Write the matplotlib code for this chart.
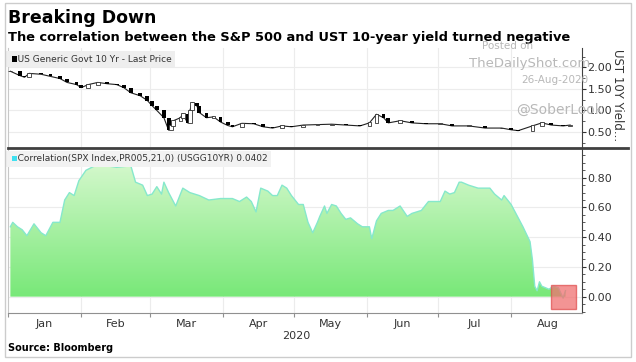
import numpy as np
import pandas as pd
import matplotlib
matplotlib.use("Agg")
import matplotlib.pyplot as plt
import matplotlib.dates as mdates
from matplotlib.colors import LinearSegmentedColormap
from matplotlib.patches import Polygon, Rectangle
from matplotlib.lines import Line2D

# US 10Y yield (approx. closes)
yield_dates = ["2020-01-02", "2020-01-06", "2020-01-08", "2020-01-10", "2020-01-15",
               "2020-01-19", "2020-01-23", "2020-01-26", "2020-01-30", "2020-02-01",
               "2020-02-04", "2020-02-08", "2020-02-12", "2020-02-16", "2020-02-19",
               "2020-02-22", "2020-02-26", "2020-02-29", "2020-03-02", "2020-03-04",
               "2020-03-07", "2020-03-09", "2020-03-10", "2020-03-11", "2020-03-14",
               "2020-03-15", "2020-03-17", "2020-03-18", "2020-03-19", "2020-03-21",
               "2020-03-22", "2020-03-25", "2020-03-28", "2020-03-31", "2020-04-03",
               "2020-04-05", "2020-04-09", "2020-04-14", "2020-04-18", "2020-04-22",
               "2020-04-26", "2020-04-30", "2020-05-05", "2020-05-11", "2020-05-17",
               "2020-05-23", "2020-05-29", "2020-06-02", "2020-06-05", "2020-06-08",
               "2020-06-10", "2020-06-15", "2020-06-20", "2020-06-26", "2020-07-02",
               "2020-07-07", "2020-07-14", "2020-07-21", "2020-07-28", "2020-08-01",
               "2020-08-04", "2020-08-10", "2020-08-14", "2020-08-18", "2020-08-23",
               "2020-08-26"]
yield_vals = [1.91, 1.81, 1.77, 1.86, 1.84,
              1.79, 1.74, 1.65, 1.60, 1.53,
              1.60, 1.65, 1.62, 1.60, 1.53,
              1.41, 1.34, 1.23, 1.11, 1.00,
              0.83, 0.54, 0.64, 0.76, 0.83,
              0.92, 0.71, 1.00, 1.18, 1.10,
              0.95, 0.83, 0.85, 0.73, 0.65,
              0.62, 0.70, 0.69, 0.62, 0.59,
              0.64, 0.62, 0.66, 0.67, 0.68,
              0.66, 0.64, 0.71, 0.91, 0.83,
              0.71, 0.76, 0.71, 0.69, 0.69,
              0.64, 0.64, 0.59, 0.59, 0.55,
              0.53, 0.64, 0.71, 0.66, 0.64,
              0.66]

# 21-day correlation SPX vs USGG10YR
corr_dates = ["2020-01-02", "2020-01-03", "2020-01-05", "2020-01-07", "2020-01-09",
              "2020-01-12", "2020-01-15", "2020-01-17", "2020-01-20", "2020-01-23",
              "2020-01-25", "2020-01-27", "2020-01-29", "2020-01-31", "2020-02-03",
              "2020-02-08", "2020-02-12", "2020-02-16", "2020-02-22", "2020-02-24",
              "2020-02-27", "2020-02-29", "2020-03-02", "2020-03-04", "2020-03-06",
              "2020-03-07", "2020-03-09", "2020-03-12", "2020-03-15", "2020-03-18",
              "2020-03-22", "2020-03-26", "2020-03-31", "2020-04-05", "2020-04-08",
              "2020-04-11", "2020-04-13", "2020-04-15", "2020-04-17", "2020-04-20",
              "2020-04-22", "2020-04-24", "2020-04-26", "2020-04-28", "2020-04-30",
              "2020-05-03", "2020-05-05", "2020-05-07", "2020-05-09", "2020-05-11",
              "2020-05-12", "2020-05-14", "2020-05-15", "2020-05-17", "2020-05-19",
              "2020-05-21", "2020-05-23", "2020-05-25", "2020-05-28", "2020-05-30",
              "2020-06-01", "2020-06-02", "2020-06-03", "2020-06-05", "2020-06-07",
              "2020-06-10", "2020-06-12", "2020-06-15", "2020-06-18", "2020-06-20",
              "2020-06-24", "2020-06-27", "2020-07-02", "2020-07-04", "2020-07-06",
              "2020-07-08", "2020-07-10", "2020-07-11", "2020-07-14", "2020-07-18",
              "2020-07-23", "2020-07-25", "2020-07-28", "2020-07-29", "2020-08-01",
              "2020-08-06", "2020-08-09", "2020-08-10", "2020-08-11", "2020-08-12",
              "2020-08-13", "2020-08-14", "2020-08-17", "2020-08-19", "2020-08-21",
              "2020-08-23", "2020-08-24"]
corr_vals = [0.47, 0.50, 0.47, 0.45, 0.41,
             0.49, 0.43, 0.41, 0.50, 0.50,
             0.65, 0.70, 0.68, 0.78, 0.85,
             0.89, 0.88, 0.87, 0.88, 0.77,
             0.75, 0.68, 0.69, 0.74, 0.69,
             0.77, 0.70, 0.61, 0.73, 0.70,
             0.68, 0.65, 0.66, 0.66, 0.64,
             0.67, 0.64, 0.57, 0.73, 0.71,
             0.68, 0.68, 0.75, 0.73, 0.68,
             0.62, 0.62, 0.50, 0.43, 0.50,
             0.54, 0.61, 0.56, 0.62, 0.61,
             0.56, 0.52, 0.53, 0.49, 0.47,
             0.47, 0.47, 0.39, 0.51, 0.56,
             0.58, 0.58, 0.61, 0.54, 0.56,
             0.58, 0.64, 0.64, 0.71, 0.69,
             0.70, 0.77, 0.77, 0.75, 0.73,
             0.73, 0.69, 0.65, 0.68, 0.62,
             0.47, 0.37, 0.25, 0.07, 0.04,
             0.10, 0.07, 0.05, 0.07, 0.06,
             -0.01, 0.04]

months = ["Jan", "Feb", "Mar", "Apr", "May", "Jun", "Jul", "Aug"]

yd = mdates.date2num(pd.to_datetime(yield_dates))
yv = np.array(yield_vals)
cd = mdates.date2num(pd.to_datetime(corr_dates))
cv = np.array(corr_vals)

x0 = mdates.date2num(pd.Timestamp("2020-01-01"))
x1 = mdates.date2num(pd.Timestamp("2020-08-31"))
month_starts = mdates.date2num(pd.date_range("2020-01-01", "2020-09-01", freq="MS"))
month_mid = (month_starts[:-1] + month_starts[1:]) / 2

fig = plt.figure(figsize=(6.36, 3.62), dpi=100)
W, H = 636, 362

def box(l, t, r, b):
    return [l / W, 1 - b / H, (r - l) / W, (b - t) / H]

ax1 = fig.add_axes(box(8, 48, 582, 147))
ax2 = fig.add_axes(box(8, 148, 582, 313))

grid_c = "#ececec"
for ax in (ax1, ax2):
    ax.set_xlim(x0, x1)
    ax.spines["top"].set_visible(False)
    ax.spines["left"].set_color("#c8c8c8")
    ax.spines["right"].set_color("#404040")
    ax.yaxis.tick_right()
    ax.tick_params(axis="y", direction="out", length=3, labelsize=8, colors="#333333", pad=1)
    for m in month_starts[1:-1]:
        ax.axvline(m, color=grid_c, lw=0.8, zorder=0)

# top panel: candles
ax1.set_ylim(0.15, 2.45)
ax1.set_yticks([0.5, 1.0, 1.5, 2.0])
ax1.set_yticklabels(["0.50", "1.00", "1.50", "2.00"])
ax1.set_yticks(np.arange(0.25, 2.45, 0.25), minor=True)
ax1.tick_params(axis="y", which="minor", length=2, colors="#404040")
for v in [0.5, 1.0, 1.5, 2.0]:
    ax1.axhline(v, color=grid_c, lw=0.8, zorder=0)
ax1.spines["bottom"].set_visible(False)
ax1.set_xticks([])
opens = np.r_[yv[0], yv[:-1]]
up = yv >= opens
ax1.plot(yd, yv, color="#222222", lw=0.8, zorder=2)
ax1.bar(yd[~up], (opens - yv)[~up], bottom=yv[~up], width=1.6, color="black", zorder=3)
ax1.bar(yd[up], (yv - opens)[up] + 0.01, bottom=opens[up], width=1.6, color="white",
        edgecolor="#333333", lw=0.6, zorder=3)
ax1.text(0.002, 0.86, "   US Generic Govt 10 Yr - Last Price", transform=ax1.transAxes,
         fontsize=6.5, color="#333333", va="baseline", zorder=5,
         bbox=dict(facecolor="#eeeeee", edgecolor="none", pad=2.5))
ax1.add_patch(Rectangle((4 / 574, 0.86), 5 / 574, 0.06, transform=ax1.transAxes,
                        facecolor="black", edgecolor="none", zorder=6))

# bottom panel: gradient area
ax2.set_ylim(-0.11, 1.0)
ax2.set_yticks([0.0, 0.2, 0.4, 0.6, 0.8])
ax2.set_yticklabels(["0.00", "0.20", "0.40", "0.60", "0.80"])
ax2.set_yticks(np.arange(-0.1, 1.0, 0.05), minor=True)
ax2.tick_params(axis="y", which="minor", length=2, colors="#404040")
for v in [0.0, 0.2, 0.4, 0.6, 0.8]:
    ax2.axhline(v, color=grid_c, lw=0.8, zorder=0)
cmap = LinearSegmentedColormap.from_list("g", ["#78e878", "#d4f8cc"])
grad = np.linspace(0, 1, 256).reshape(-1, 1)
im = ax2.imshow(grad, extent=[x0, x1, 0, 0.9], aspect="auto", cmap=cmap,
                origin="lower", zorder=1)
poly = Polygon(np.c_[np.r_[cd, cd[::-1]], np.r_[cv, np.zeros_like(cv)]],
               closed=True, facecolor="none", edgecolor="none", transform=ax2.transData)
ax2.add_patch(poly)
im.set_clip_path(poly)
ax2.plot(cd, cv, color="#86e8cc", lw=1, zorder=2)
ax2.add_patch(Rectangle((mdates.date2num(pd.Timestamp("2020-08-18")), -0.08), 10.5, 0.16,
                        facecolor="#f07070", alpha=0.75, edgecolor="#e05050", zorder=4))
ax2.text(0.002, 0.92, "   Correlation(SPX Index,PR005,21,0) (USGG10YR) 0.0402",
         transform=ax2.transAxes, fontsize=6.5, color="#333333", va="baseline", zorder=5,
         bbox=dict(facecolor="#f2f2f2", edgecolor="none", pad=2.5))
ax2.add_patch(Rectangle((4 / 574, 0.92), 5 / 574, 5 / 165, transform=ax2.transAxes,
                        facecolor="#40e0f0", edgecolor="none", zorder=6))

ax2.spines["bottom"].set_color("#909090")
ax2.set_xticks(month_starts[:-1], minor=False)
ax2.set_xticklabels([])
ax2.tick_params(axis="x", which="major", length=3, colors="#909090")
ax2.set_xticks(month_mid, minor=True)
ax2.set_xticklabels(months, minor=True)
ax2.tick_params(axis="x", which="minor", length=0, labelsize=8, labelcolor="#333333", pad=4)

# divider line and outer frame
fig.add_artist(Line2D([8 / W, 628 / W], [1 - 147.5 / H] * 2, color="#404040", lw=2))
fig.add_artist(Rectangle((5 / W, 1 - 357 / H), 626 / W, 354 / H, transform=fig.transFigure,
                         facecolor="none", edgecolor="#cccccc", lw=1))

fig.text(8 / W, 1 - 18 / H, "Breaking Down", fontsize=12.5, fontweight="bold", va="center")
fig.text(8 / W, 1 - 37 / H, "The correlation between the S&P 500 and UST 10-year yield turned negative",
         fontsize=9.4, fontweight="bold", va="center")
fig.text(617 / W, 1 - 95 / H, "UST 10Y Yield...", rotation=-90, fontsize=8.5, color="#333333",
         ha="center", va="center")
fig.text(296 / W, 1 - 336 / H, "2020", fontsize=8, color="#333333", ha="center", va="center")
fig.text(8 / W, 1 - 348 / H, "Source: Bloomberg", fontsize=7, fontweight="bold", va="center")

wm = "#b8b8b8"
fig.text(508 / W, 1 - 46 / H, "Posted on", fontsize=7.5, color=wm, ha="center", va="center")
fig.text(530 / W, 1 - 64 / H, "TheDailyShot.com", fontsize=9.5, color=wm, ha="center", va="center")
fig.text(555 / W, 1 - 80 / H, "26-Aug-2020", fontsize=7.5, color=wm, ha="center", va="center")
fig.text(560 / W, 1 - 110 / H, "@SoberLook", fontsize=10, color=wm, ha="center", va="center")

fig.savefig("out.png", dpi=100)
